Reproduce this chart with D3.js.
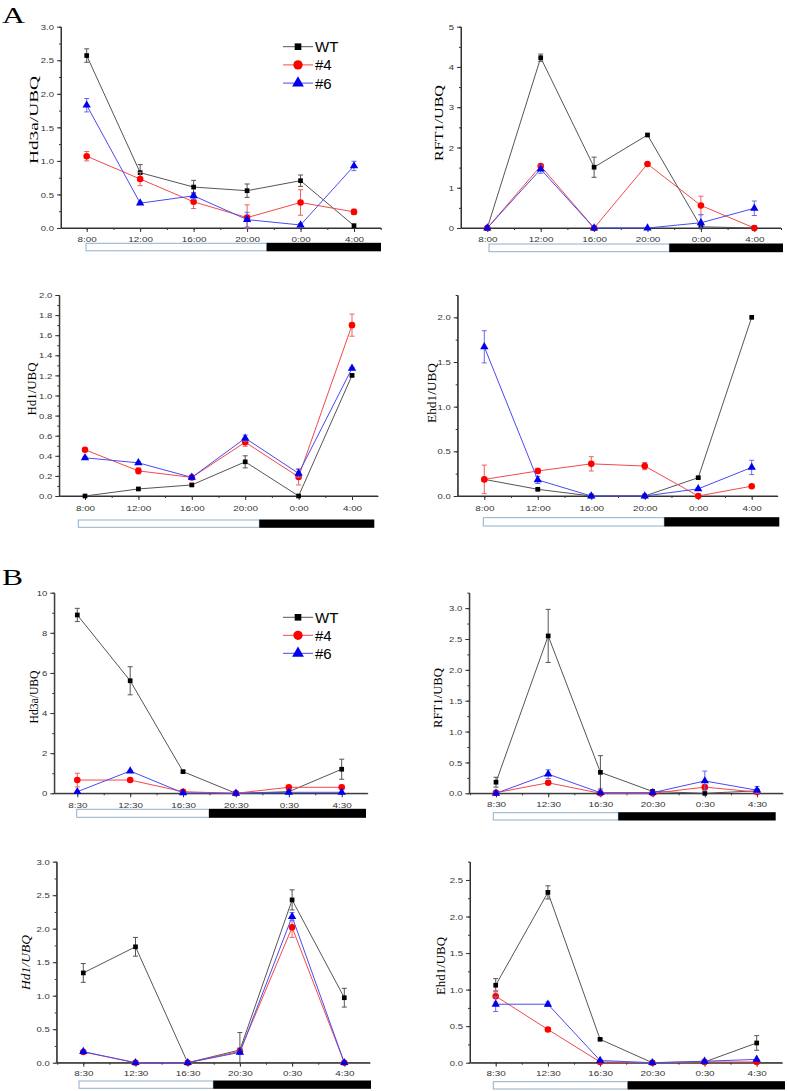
<!DOCTYPE html>
<html>
<head>
<meta charset="utf-8">
<script src="https://cdn.jsdelivr.net/npm/d3@7"></script>
<style>
  html, body { margin: 0; padding: 0; background: #fff; }
  svg { display: block; }
</style>
</head>
<body>
<script>
// ---------------- DATA ----------------
const timesA = ["8:00", "12:00", "16:00", "20:00", "0:00", "4:00"];
const timesB = ["8:30", "12:30", "16:30", "20:30", "0:30", "4:30"];
const seriesNames = ["WT", "#4", "#6"];

// Panel A – Hd3a
const aHd3a_WT = [2.57, 0.825, 0.61, 0.556, 0.705, 0.035];
const aHd3a_WT_err = [0.1, 0.12, 0.1, 0.1, 0.085, 0];
const aHd3a_L4 = [1.07, 0.73, 0.39, 0.155, 0.38, 0.24];
const aHd3a_L4_err = [0.07, 0.1, 0.1, 0.19, 0.19, 0.04];
const aHd3a_L6 = [1.83, 0.37, 0.48, 0.125, 0.045, 0.925];
const aHd3a_L6_err = [0.1, 0.02, 0.05, 0.11, 0.02, 0.07];

// Panel A – RFT1
const aRFT1_WT = [0, 4.23, 1.51, 2.31, 0.03, 0];
const aRFT1_WT_err = [0, 0.09, 0.25, 0.03, 0, 0];
const aRFT1_L4 = [0, 1.54, 0, 1.59, 0.56, 0];
const aRFT1_L4_err = [0, 0.03, 0, 0.02, 0.23, 0];
const aRFT1_L6 = [0, 1.46, 0, 0, 0.13, 0.49];
const aRFT1_L6_err = [0, 0.1, 0, 0, 0.2, 0.18];

// Panel A – Hd1
const aHd1_WT = [0, 0.07, 0.11, 0.34, 0, 1.2];
const aHd1_WT_err = [0, 0.01, 0.01, 0.06, 0, 0.01];
const aHd1_L4 = [0.46, 0.25, 0.185, 0.535, 0.19, 1.70];
const aHd1_L4_err = [0.01, 0.03, 0.01, 0.04, 0.08, 0.11];
const aHd1_L6 = [0.38, 0.33, 0.185, 0.575, 0.225, 1.27];
const aHd1_L6_err = [0.01, 0.01, 0.01, 0.03, 0.04, 0.01];

// Panel A – Ehd1
const aEhd1_WT = [0.186, 0.075, 0, 0, 0.205, 2.0];
const aEhd1_WT_err = [0, 0.01, 0, 0, 0.01, 0];
const aEhd1_L4 = [0.186, 0.28, 0.36, 0.335, 0, 0.11];
const aEhd1_L4_err = [0.16, 0.03, 0.08, 0.04, 0, 0.01];
const aEhd1_L6 = [1.67, 0.18, 0, 0, 0.08, 0.32];
const aEhd1_L6_err = [0.18, 0.04, 0, 0, 0.01, 0.08];

// Panel B – Hd3a
const bHd3a_WT = [8.89, 5.61, 1.08, 0, 0.08, 1.2];
const bHd3a_WT_err = [0.33, 0.7, 0.05, 0, 0, 0.5];
const bHd3a_L4 = [0.66, 0.66, 0.08, 0, 0.3, 0.3];
const bHd3a_L4_err = [0.34, 0.03, 0, 0, 0.05, 0.1];
const bHd3a_L6 = [0.08, 1.11, 0.02, 0, 0.05, 0.05];
const bHd3a_L6_err = [0, 0.02, 0, 0, 0, 0];

// Panel B – RFT1
const bRFT1_WT = [0.18, 2.55, 0.34, 0.03, 0, 0.04];
const bRFT1_WT_err = [0.08, 0.43, 0.27, 0.01, 0, 0.02];
const bRFT1_L4 = [0.01, 0.17, 0, 0, 0.1, 0.02];
const bRFT1_L4_err = [0, 0.02, 0, 0, 0.03, 0];
const bRFT1_L6 = [0, 0.31, 0.01, 0.01, 0.2, 0.05];
const bRFT1_L6_err = [0, 0.07, 0, 0, 0.16, 0.06];

// Panel B – Hd1
const bHd1_WT = [1.34, 1.73, 0, 0.19, 2.43, 0.97];
const bHd1_WT_err = [0.14, 0.14, 0, 0.26, 0.15, 0.14];
const bHd1_L4 = [0.16, 0, 0, 0.17, 2.02, 0];
const bHd1_L4_err = [0, 0, 0, 0, 0.15, 0];
const bHd1_L6 = [0.165, 0, 0, 0.155, 2.18, 0];
const bHd1_L6_err = [0.01, 0, 0, 0.03, 0.06, 0];

// Panel B – Ehd1
const bEhd1_WT = [1.06, 2.33, 0.32, 0, 0.01, 0.27];
const bEhd1_WT_err = [0.09, 0.09, 0.01, 0, 0, 0.1];
const bEhd1_L4 = [0.91, 0.455, 0.01, 0, 0.01, 0.01];
const bEhd1_L4_err = [0.08, 0.01, 0, 0, 0, 0];
const bEhd1_L6 = [0.8, 0.8, 0.03, 0, 0.02, 0.045];
const bEhd1_L6_err = [0.1, 0.03, 0, 0, 0, 0];

// ---------------- STYLE / LAYOUT ----------------
const styles = [
  { line: "#555", fill: "#000", err: "#555", sym: d3.symbolSquare, size: 22 },
  { line: "#f24a4a", fill: "#ff0000", err: "#f06060", sym: d3.symbolCircle, size: 34 },
  { line: "#4a4af0", fill: "#0000ee", err: "#6a6af0", sym: d3.symbolTriangle, size: 30 }
];

const panels = [
  { label: "Hd3a/UBQ", italic: false, times: timesA,
    data: [[aHd3a_WT, aHd3a_WT_err], [aHd3a_L4, aHd3a_L4_err], [aHd3a_L6, aHd3a_L6_err]],
    axisX: 61, yTop: 26.7, y0: 228, ymax: 3, major: 0.5, minor: 0.25, dec: 1,
    first: 86.7, last: 354, xEnd: 381, tickLabY: 239,
    bar: [86, 266.7, 381, 243.3, 7.5], ylab: [33, 120, 88], legend: [283, 46.7, 18.2] },
  { label: "RFT1/UBQ", italic: false, times: timesA,
    data: [[aRFT1_WT, aRFT1_WT_err], [aRFT1_L4, aRFT1_L4_err], [aRFT1_L6, aRFT1_L6_err]],
    axisX: 461, yTop: 26.7, y0: 228, ymax: 5, major: 1, minor: 0.5, dec: 0,
    first: 487.3, last: 754.3, xEnd: 781, tickLabY: 239,
    bar: [489, 669.3, 783, 244, 7.7], ylab: [438, 123, 76] },
  { label: "Hd1/UBQ", italic: false, times: timesA,
    data: [[aHd1_WT, aHd1_WT_err], [aHd1_L4, aHd1_L4_err], [aHd1_L6, aHd1_L6_err]],
    axisX: 59.3, yTop: 295, y0: 496, ymax: 2, major: 0.2, minor: 0.1, dec: 1,
    first: 85, last: 352, xEnd: 378, tickLabY: 508.3,
    bar: [78.3, 259.3, 374.3, 520, 7.3], ylab: [31.7, 389, 53] },
  { label: "Ehd1/UBQ", italic: false, times: timesA,
    data: [[aEhd1_WT, aEhd1_WT_err], [aEhd1_L4, aEhd1_L4_err], [aEhd1_L6, aEhd1_L6_err]],
    axisX: 457.7, yTop: 295, y0: 496, ymax: 2.25, major: 0.5, minor: 0.25, dec: 1,
    first: 484.3, last: 751.7, xEnd: 777.7, tickLabY: 508.3,
    bar: [483.3, 664.3, 779.3, 517.7, 8.3], ylab: [431.7, 393, 60] },
  { label: "Hd3a/UBQ", italic: false, times: timesB,
    data: [[bHd3a_WT, bHd3a_WT_err], [bHd3a_L4, bHd3a_L4_err], [bHd3a_L6, bHd3a_L6_err]],
    axisX: 54.3, yTop: 592.7, y0: 793.3, ymax: 10, major: 2, minor: 1, dec: 0,
    first: 77.3, last: 341.7, xEnd: 367.7, tickLabY: 805,
    bar: [76.7, 209, 366, 809.3, 8], ylab: [33.3, 697, 53], legend: [283, 617.3, 18] },
  { label: "RFT1/UBQ", italic: false, times: timesB,
    data: [[bRFT1_WT, bRFT1_WT_err], [bRFT1_L4, bRFT1_L4_err], [bRFT1_L6, bRFT1_L6_err]],
    axisX: 469.3, yTop: 592.7, y0: 793.3, ymax: 3.25, major: 0.5, minor: 0.25, dec: 1,
    first: 496, last: 757, xEnd: 783, tickLabY: 804.3,
    bar: [493.3, 618.3, 775.7, 812.7, 7.3], ylab: [437.3, 698, 60] },
  { label: "Hd1/UBQ", italic: true, times: timesB,
    data: [[bHd1_WT, bHd1_WT_err], [bHd1_L4, bHd1_L4_err], [bHd1_L6, bHd1_L6_err]],
    axisX: 56.7, yTop: 861.7, y0: 1062.7, ymax: 3, major: 0.5, minor: 0.25, dec: 1,
    first: 83.3, last: 344.3, xEnd: 370, tickLabY: 1073,
    bar: [79, 213.3, 371, 1081, 7.3], ylab: [25, 962.5, 55] },
  { label: "Ehd1/UBQ", italic: false, times: timesB,
    data: [[bEhd1_WT, bEhd1_WT_err], [bEhd1_L4, bEhd1_L4_err], [bEhd1_L6, bEhd1_L6_err]],
    axisX: 470, yTop: 861.7, y0: 1062.7, ymax: 2.75, major: 0.5, minor: 0.25, dec: 1,
    first: 495.7, last: 756.7, xEnd: 782.3, tickLabY: 1073.3,
    bar: [493.3, 627.7, 785, 1081.7, 7.3], ylab: [440, 966, 58] }
];

const W = 787, H = 1091;
const svg = d3.select("body").append("svg").attr("width", W).attr("height", H);

// Section letters
svg.append("text").attr("x", 2).attr("y", 23).text("A")
  .attr("font-family", "Liberation Serif, Times New Roman, serif").attr("font-size", 24)
  .attr("textLength", 23).attr("lengthAdjust", "spacingAndGlyphs");
svg.append("text").attr("x", 2).attr("y", 585).text("B")
  .attr("font-family", "Liberation Serif, Times New Roman, serif").attr("font-size", 24)
  .attr("textLength", 21).attr("lengthAdjust", "spacingAndGlyphs");

function range(a, b, s) {
  const out = [];
  for (let v = a; v <= b + 1e-9; v += s) out.push(+v.toFixed(6));
  return out;
}

panels.forEach(p => {
  const g = svg.append("g");
  const step = (p.last - p.first) / 5;
  const x = d3.scaleLinear()
    .domain([(p.axisX - p.first) / step, (p.xEnd - p.first) / step])
    .range([p.axisX, p.xEnd]);
  const y = d3.scaleLinear().domain([0, p.ymax]).range([p.y0, p.yTop]);

  // minor ticks Y
  g.append("g").attr("transform", `translate(${p.axisX},0)`)
    .call(d3.axisLeft(y).tickValues(range(0, p.ymax, p.minor)).tickSize(2).tickSizeOuter(0).tickFormat(""))
    .call(s => s.selectAll("line,path").attr("stroke", "#333"));
  // major ticks Y
  const ya = g.append("g").attr("transform", `translate(${p.axisX},0)`)
    .call(d3.axisLeft(y).tickValues(range(0, Math.floor(p.ymax / p.major + 1e-9) * p.major, p.major))
      .tickSize(4).tickSizeOuter(0).tickFormat(d3.format(`.${p.dec}f`)));
  ya.selectAll("line,path").attr("stroke", "#333");
  ya.selectAll("text")
    .attr("font-family", "Liberation Sans, Arial, sans-serif").attr("font-size", 7.6)
    .attr("fill", "#333").attr("x", 0).attr("dy", "0.35em")
    .attr("transform", "translate(-7,0) scale(1.25,1)");
  ya.select(".domain").remove();

  // X axis
  const xmin = x.domain()[0], xmax = x.domain()[1];
  const minorX = [];
  for (let v = -0.5; v <= xmax + 1e-9; v += 0.5) if (v >= xmin) minorX.push(v);
  g.append("g").attr("transform", `translate(0,${p.y0})`)
    .call(d3.axisBottom(x).tickValues(minorX).tickSize(2).tickSizeOuter(0).tickFormat(""))
    .call(s => s.selectAll("line,path").attr("stroke", "#333"));
  const xa = g.append("g").attr("transform", `translate(0,${p.y0})`)
    .call(d3.axisBottom(x).tickValues([0, 1, 2, 3, 4, 5]).tickSize(4).tickSizeOuter(0)
      .tickFormat(i => p.times[i]));
  xa.selectAll("line,path").attr("stroke", "#333");
  xa.selectAll("text")
    .attr("font-family", "Liberation Sans, Arial, sans-serif").attr("font-size", 7.6)
    .attr("fill", "#333").attr("y", 0).attr("dy", "0.35em")
    .attr("transform", `translate(0,${p.tickLabY - p.y0}) scale(1.3,1)`);
  xa.select(".domain").remove();

  // axis lines
  g.append("line").attr("x1", p.axisX).attr("x2", p.axisX).attr("y1", p.yTop).attr("y2", p.y0)
    .attr("stroke", "#333").attr("stroke-width", 1);
  g.append("line").attr("x1", p.axisX).attr("x2", p.xEnd).attr("y1", p.y0).attr("y2", p.y0)
    .attr("stroke", "#333").attr("stroke-width", 1);

  // Light / dark bar
  const [bx0, bx1, bx2, by, bh] = p.bar;
  g.append("rect").attr("x", bx0).attr("y", by).attr("width", bx1 - bx0).attr("height", bh)
    .attr("fill", "#fff").attr("stroke", "#8fb0cc").attr("stroke-width", 1);
  g.append("rect").attr("x", bx1).attr("y", by - 0.5).attr("width", bx2 - bx1).attr("height", bh + 1)
    .attr("fill", "#000");

  // Y label
  const [lx, ly, llen] = p.ylab;
  g.append("text").attr("transform", `translate(${lx},${ly}) rotate(-90)`)
    .attr("text-anchor", "middle").attr("dy", "0.35em")
    .attr("font-family", "Liberation Serif, Times New Roman, serif").attr("font-size", 13)
    .attr("font-style", p.italic ? "italic" : "normal")
    .attr("textLength", llen).attr("lengthAdjust", "spacingAndGlyphs")
    .text(p.label);

  // Series
  p.data.forEach((sd, si) => {
    const [vals, errs] = sd;
    const st = styles[si];
    const pts = vals.map((v, i) => ({ i, v, e: errs[i] }));
    const line = d3.line().x(d => x(d.i)).y(d => y(d.v));
    g.append("path").datum(pts).attr("d", line)
      .attr("fill", "none").attr("stroke", st.line).attr("stroke-width", 1);
    // error bars
    const eb = g.append("g").attr("stroke", st.err).attr("stroke-width", 1);
    pts.filter(d => d.e > 0).forEach(d => {
      const cx = x(d.i), yt = y(d.v + d.e), yb = y(Math.max(0, d.v - d.e));
      eb.append("line").attr("x1", cx).attr("x2", cx).attr("y1", yt).attr("y2", yb);
      eb.append("line").attr("x1", cx - 2.5).attr("x2", cx + 2.5).attr("y1", yt).attr("y2", yt);
      eb.append("line").attr("x1", cx - 2.5).attr("x2", cx + 2.5).attr("y1", yb).attr("y2", yb);
    });
    g.selectAll(null).data(pts).enter().append("path")
      .attr("d", d3.symbol().type(st.sym).size(st.size))
      .attr("transform", d => `translate(${x(d.i)},${y(d.v)})`)
      .attr("fill", st.fill);
  });

  // Legend
  if (p.legend) {
    const [lgx, lgy, gap] = p.legend;
    seriesNames.forEach((name, si) => {
      const st = styles[si];
      const yy = lgy + si * gap;
      g.append("line").attr("x1", lgx).attr("x2", lgx + 30).attr("y1", yy).attr("y2", yy)
        .attr("stroke", st.line).attr("stroke-width", 1);
      g.append("path").attr("d", d3.symbol().type(st.sym).size(st.size * 2))
        .attr("transform", `translate(${lgx + 15},${yy})`).attr("fill", st.fill);
      g.append("text").attr("x", lgx + 32).attr("y", yy).attr("dy", "0.36em")
        .attr("font-family", "Liberation Sans, Arial, sans-serif").attr("font-size", 15)
        .text(name);
    });
  }
});
</script>
</body>
</html>
